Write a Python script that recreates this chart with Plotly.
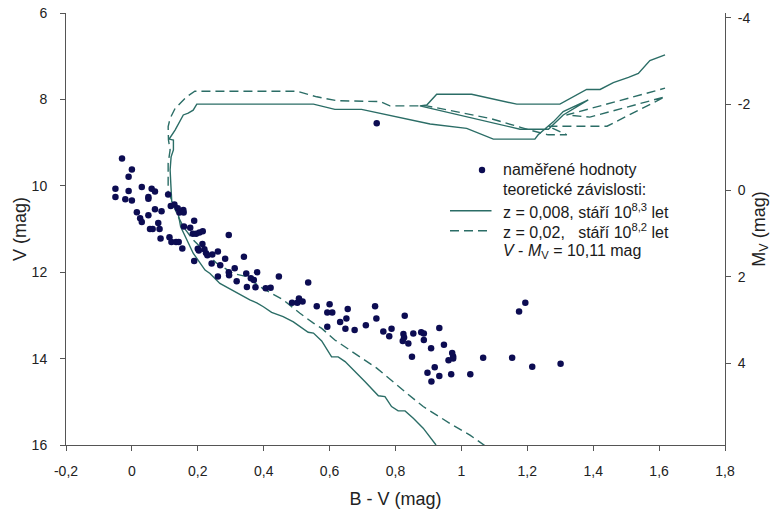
import plotly.graph_objects as go

# Observed stars: colour index B-V and apparent magnitude V
bv_obs = [-0.03, 0.00, -0.01, -0.05, -0.05, -0.02, -0.01, 0.00, 0.03, 0.06,
          0.07, 0.05, 0.05, 0.11, 0.015, 0.025, 0.03, 0.05, 0.07, 0.09,
          0.08, 0.055, 0.063, 0.084, 0.087, 0.114, 0.12, 0.134, 0.142, 0.153,
          0.118, 0.129, 0.139, 0.144, 0.156, 0.157, 0.189, 0.158, 0.177, 0.185,
          0.195, 0.205, 0.215, 0.294, 0.200, 0.203, 0.214, 0.220, 0.225, 0.229,
          0.244, 0.261, 0.283, 0.242, 0.189, 0.268, 0.261, 0.294, 0.295, 0.312,
          0.340, 0.347, 0.361, 0.370, 0.380, 0.318, 0.349, 0.375, 0.406, 0.421,
          0.446, 0.535, 0.486, 0.502, 0.507, 0.518, 0.561, 0.600, 0.593, 0.608,
          0.655, 0.632, 0.651, 0.593, 0.648, 0.676, 0.710, 0.738, 0.742, 0.763,
          0.788, 0.781, 0.828, 0.824, 0.822, 0.839, 0.826, 0.854, 0.878, 0.886,
          0.886, 0.933, 0.850, 0.908, 0.947, 0.972, 0.975, 0.975, 0.961, 0.919,
          0.897, 0.933, 0.909, 0.969, 1.027, 1.066, 1.154, 1.215, 1.301, 1.175,
          1.194, 0.743]
v_obs = [9.37, 9.62, 9.79, 10.07, 10.26, 10.31, 10.12, 10.34, 10.03, 10.07,
         10.13, 10.26, 10.30, 10.20, 10.61, 10.75, 10.84, 10.68, 10.54, 10.59,
         10.86, 11.00, 11.00, 11.00, 11.22, 11.19, 11.30, 11.30, 11.30, 11.45,
         10.47, 10.43, 10.52, 10.62, 10.56, 10.62, 10.81, 10.94, 10.97, 11.11,
         11.11, 11.08, 11.05, 11.14, 11.46, 11.50, 11.35, 11.47, 11.56, 11.61,
         11.59, 11.52, 11.69, 11.80, 11.74, 11.84, 12.10, 12.00, 12.07, 11.91,
         11.64, 12.03, 12.14, 12.18, 12.00, 12.21, 12.34, 12.35, 12.37, 12.36,
         12.10, 12.24, 12.71, 12.71, 12.61, 12.68, 12.79, 12.74, 12.93, 12.93,
         12.85, 13.15, 13.07, 13.26, 13.31, 13.34, 13.23, 12.79, 13.07, 13.37,
         13.31, 13.48, 13.01, 13.43, 13.59, 13.65, 13.51, 13.42, 13.39, 13.42,
         13.57, 13.29, 13.96, 13.76, 13.68, 13.87, 13.95, 14.00, 14.04, 14.20,
         14.33, 14.40, 14.53, 14.36, 14.36, 13.98, 13.98, 14.19, 14.12, 12.91,
         12.71, 8.55]

# Isochrone z = 0.008, age 10^8.3 yr (shifted by the distance modulus)
bv_iso1 = [0.923, 0.884, 0.854, 0.829, 0.808, 0.788, 0.768, 0.748, 0.707, 0.647,
           0.626, 0.606, 0.576, 0.551, 0.535, 0.490, 0.459, 0.424, 0.399, 0.379,
           0.358, 0.328, 0.267, 0.237, 0.222, 0.186, 0.166, 0.148, 0.144, 0.141,
           0.138, 0.131, 0.121, 0.118, 0.116, 0.119, 0.126, 0.126, 0.113, 0.131,
           0.156, 0.171, 0.186, 0.197, 0.551, 0.616, 0.697, 0.905, 1.016, 1.097,
           1.223, 1.233, 1.279, 1.309, 1.385, 1.309, 1.264, 1.178, 0.874, 0.895,
           0.925, 1.031, 1.168, 1.299, 1.380, 1.421, 1.461, 1.507, 1.537, 1.572,
           1.618]
v_iso1 = [16.00, 15.61, 15.38, 15.21, 15.21, 15.11, 14.88, 14.86, 14.53, 14.07,
          13.96, 13.96, 13.59, 13.41, 13.39, 13.15, 13.03, 12.93, 12.80, 12.71,
          12.64, 12.51, 12.26, 12.03, 11.95, 11.56, 11.25, 10.95, 10.79, 10.64,
          10.56, 10.41, 10.37, 9.94, 9.63, 9.33, 9.17, 8.94, 8.92, 8.71,
          8.36, 8.32, 8.25, 8.11, 8.11, 8.23, 8.23, 8.57, 8.67, 8.92,
          8.92, 8.82, 8.52, 8.28, 8.01, 8.36, 8.69, 8.69, 8.15, 8.13,
          7.88, 7.88, 8.11, 8.11, 7.77, 7.77, 7.61, 7.49, 7.40, 7.10,
          6.97]

# Isochrone z = 0.02, age 10^8.2 yr
bv_iso2 = [1.072, 1.026, 0.965, 0.915, 0.884, 0.834, 0.793, 0.743, 0.692, 0.662,
           0.616, 0.576, 0.551, 0.510, 0.480, 0.459, 0.389, 0.348, 0.308, 0.257,
           0.232, 0.207, 0.186, 0.156, 0.136, 0.121, 0.110, 0.110, 0.110, 0.116,
           0.111, 0.110, 0.116, 0.131, 0.166, 0.191, 0.500, 0.561, 0.622, 0.753,
           0.783, 0.895, 1.087, 1.208, 1.263, 1.320, 1.263, 1.442, 1.527, 1.618,
           1.390, 1.319, 1.470, 1.618]
v_iso2 = [16.02, 15.77, 15.50, 15.27, 15.11, 14.80, 14.53, 14.22, 13.96, 13.80,
          13.57, 13.30, 13.18, 12.95, 12.76, 12.64, 12.34, 12.10, 12.03, 11.79,
          11.60, 11.41, 11.25, 10.95, 10.64, 10.33, 10.14, 9.71, 9.48, 9.17,
          8.94, 8.63, 8.44, 8.21, 7.94, 7.81, 7.81, 7.94, 8.03, 8.05,
          8.15, 8.15, 8.44, 8.71, 8.82, 8.82, 8.62, 8.62, 8.30, 7.94,
          8.41, 8.36, 8.05, 7.74]

distance_modulus = 10.11

x_ticks = [-0.2, 0.0, 0.2, 0.4, 0.6, 0.8, 1.0, 1.2, 1.4, 1.6, 1.8]
x_ticktext = ["-0,2", "0", "0,2", "0,4", "0,6", "0,8", "1", "1,2", "1,4", "1,6", "1,8"]
v_ticks = [6, 8, 10, 12, 14, 16]
mv_ticks = [-4, -2, 0, 2, 4]
mv_ticktext = ["-4", "-2", "0", "2", "4"]

v_range = [16, 6]
mv_range = [v_range[0] - distance_modulus, v_range[1] - distance_modulus]

line_col = "#2b6d66"
dot_col = "#0c0c52"
axis_col = "#555555"
font = "Liberation Sans, Arial, sans-serif"

fig = go.Figure()
fig.add_trace(go.Scatter(x=bv_iso1, y=v_iso1, mode="lines",
                         line=dict(color=line_col, width=1.4),
                         showlegend=False, hoverinfo="skip"))
fig.add_trace(go.Scatter(x=bv_iso2, y=v_iso2, mode="lines",
                         line=dict(color=line_col, width=1.4, dash="9px,5px"),
                         showlegend=False, hoverinfo="skip"))
fig.add_trace(go.Scatter(x=bv_obs, y=v_obs, mode="markers",
                         marker=dict(color=dot_col, size=6.5),
                         showlegend=False))
# carries the absolute-magnitude axis on the right
fig.add_trace(go.Scatter(x=[None], y=[None], yaxis="y2", showlegend=False))

# key
lx0, lx1, tx = 0.5827, 0.6457, 0.660
key = [
    ("naměřené hodnoty", 0.6366),
    ("teoretické závislosti:", 0.5903),
    ("z = 0,008, stáří 10<sup>8,3</sup> let", 0.5424),
    ("z = 0,02,\u00a0\u00a0 stáří 10<sup>8,2</sup> let", 0.4961),
    ("<i>V</i> - <i>M</i><sub>V</sub> = 10,11 mag", 0.4475),
]
annotations = [dict(text=t, x=tx, y=y, xref="paper", yref="paper",
                     xanchor="left", yanchor="middle", showarrow=False,
                     font=dict(family=font, size=16, color="#1a1a1a"))
               for t, y in key]
shapes = [
    dict(type="circle", xref="paper", yref="paper", xsizemode="pixel", ysizemode="pixel",
         xanchor=0.6313, yanchor=0.6366, x0=-3.2, x1=3.2, y0=-3.2, y1=3.2,
         fillcolor=dot_col, line=dict(width=0)),
    dict(type="line", xref="paper", yref="paper", x0=lx0, x1=lx1, y0=0.5424, y1=0.5424,
         line=dict(color=line_col, width=1.4)),
    dict(type="line", xref="paper", yref="paper", x0=lx0, x1=lx1, y0=0.4961, y1=0.4961,
         line=dict(color=line_col, width=1.4, dash="9px,5px")),
]

axis_common = dict(showgrid=False, zeroline=False, showline=True, linecolor=axis_col,
                   linewidth=1, ticks="outside", ticklen=5, tickcolor=axis_col,
                   automargin=False,
                   tickfont=dict(family=font, size=14, color="#222222"))

fig.update_layout(
    width=784, height=511,
    margin=dict(l=66, r=59, t=13, b=66, autoexpand=False),
    paper_bgcolor="white", plot_bgcolor="white",
    xaxis=dict(range=[-0.2, 1.8], tickvals=x_ticks, ticktext=x_ticktext,
               title=dict(text="B - V (mag)", font=dict(family=font, size=18, color="#222222"),
                          standoff=14),
               ticklabelstandoff=8, **axis_common),
    yaxis=dict(range=v_range, tickvals=v_ticks,
               title=dict(text="V (mag)", font=dict(family=font, size=18, color="#222222"),
                          standoff=0),
               ticklabelstandoff=10, **axis_common),
    yaxis2=dict(range=mv_range, tickvals=mv_ticks, ticktext=mv_ticktext,
                overlaying="y", side="right",
                title=dict(text="M<sub>V</sub> (mag)", font=dict(family=font, size=18, color="#222222"),
                           standoff=2),
                ticklabelstandoff=4, **axis_common),
    annotations=annotations,
    shapes=shapes,
    showlegend=False,
)

fig.write_html("out.html")
